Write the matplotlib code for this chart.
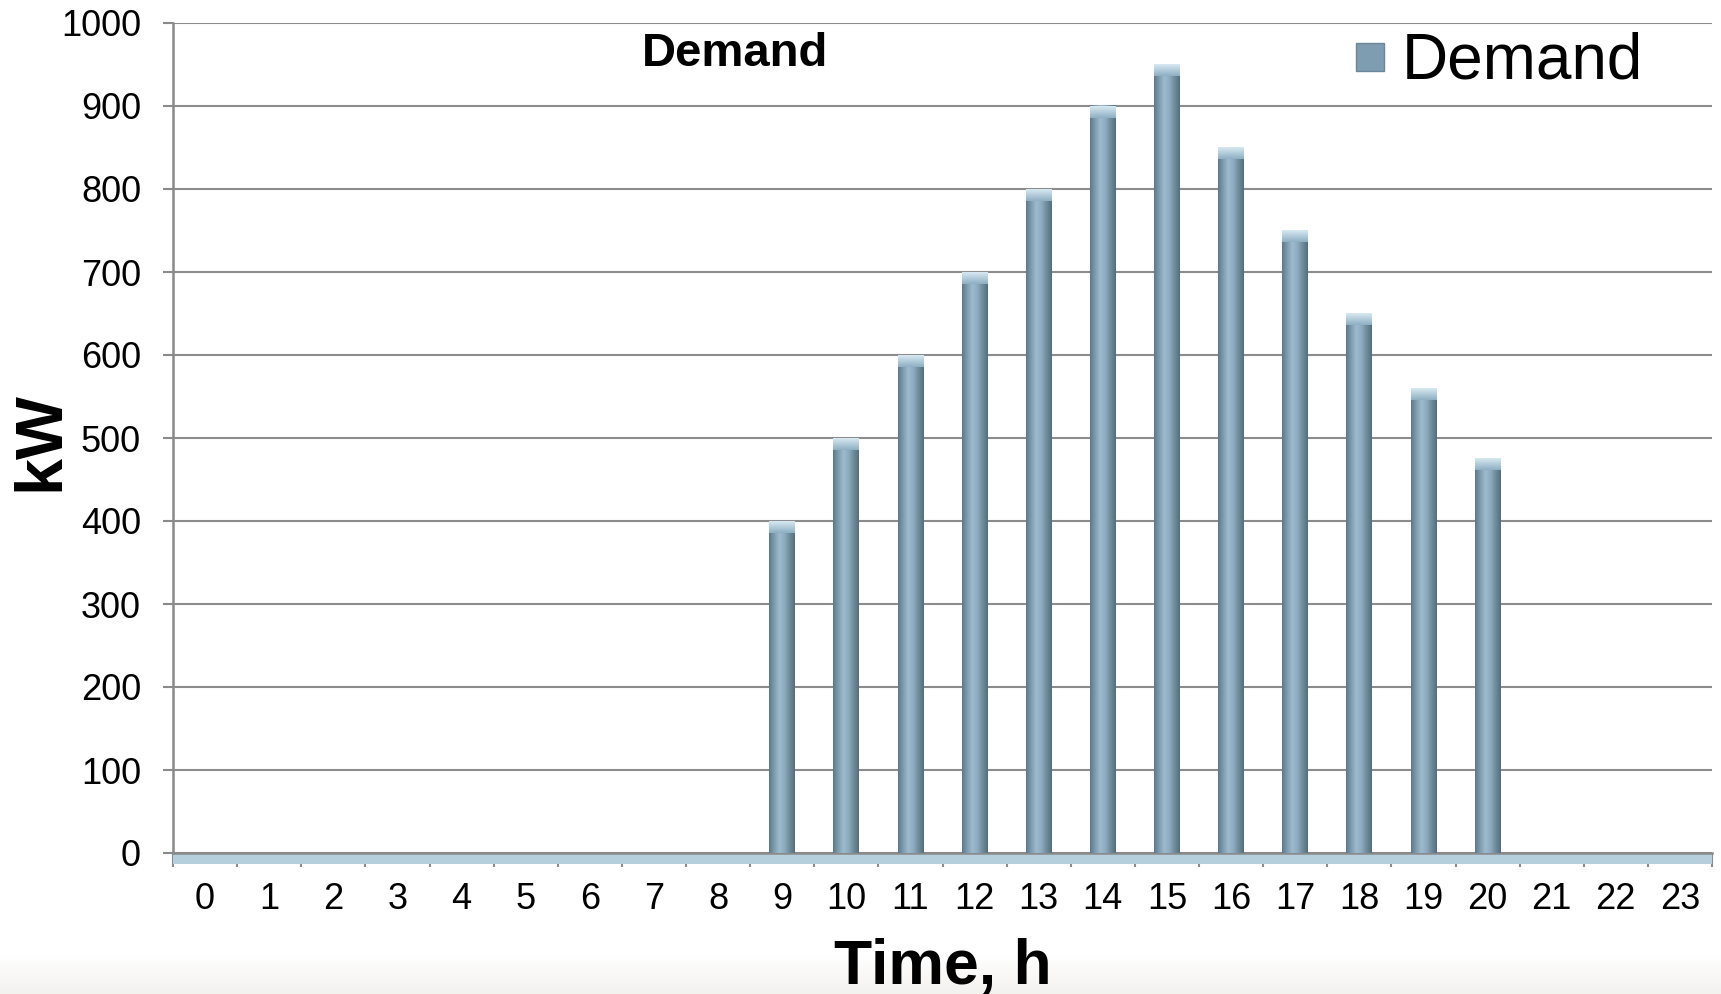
import numpy as np
import matplotlib.pyplot as plt
from matplotlib.colors import LinearSegmentedColormap
from matplotlib.patches import Rectangle
from matplotlib.lines import Line2D

plt.rcParams['font.family'] = ['Liberation Sans', 'DejaVu Sans']

hours = list(range(24))
demand = [0, 0, 0, 0, 0, 0, 0, 0, 0,
          400, 500, 600, 700, 800, 900, 950, 850, 750, 650, 560, 475,
          0, 0, 0]
y_ticks = list(range(0, 1001, 100))

W, H = 1721, 994
fig = plt.figure(figsize=(W / 100, H / 100), dpi=100)

# faint warm band at the very bottom of the picture
bg = fig.add_axes([0, 0, 1, 40 / H], zorder=-5)
bg.imshow(np.linspace(0, 1, 50).reshape(-1, 1), aspect='auto',
          cmap=LinearSegmentedColormap.from_list('bgfade', ['#f4f2ef', '#ffffff']),
          extent=[0, 1, 0, 1], origin='lower')
bg.axis('off')

ax = fig.add_axes([173 / W, 1 - 853 / H, (1712 - 173) / W, (853 - 23) / H])

bar_w = 0.4
cyl = LinearSegmentedColormap.from_list(
    'cyl', ['#5d7889', '#7f9db0', '#9dbbcd', '#8eacbf', '#6f8b9c', '#566f7f'])
grad = np.linspace(0, 1, 64).reshape(1, -1)

for h, v in zip(hours, demand):
    if v <= 0:
        continue
    ax.bar(h, v, width=bar_w, color='#7f9db0', zorder=3)
    ax.imshow(grad, cmap=cyl, aspect='auto', zorder=4,
              extent=[h - bar_w / 2, h + bar_w / 2, 0, v])
    # light cap on top of each bar
    ax.imshow(np.linspace(0, 1, 20).reshape(-1, 1), aspect='auto', zorder=5,
              cmap=LinearSegmentedColormap.from_list('cap', ['#8fb0c3', '#d6e8f1']),
              extent=[h - bar_w / 2, h + bar_w / 2, v - 14, v], origin='lower')

ax.set_xlim(-0.5, 23.5)
ax.set_ylim(0, 1000)

ax.set_yticks(y_ticks)
ax.set_yticklabels([str(t) for t in y_ticks], fontsize=26)
ax.set_xticks(hours)
ax.set_xticklabels([str(h) for h in hours], fontsize=26)
ax.set_xticks(np.arange(-0.5, 24, 1), minor=True)

ax.tick_params(axis='y', length=7, width=1.5, color='#8a8a8a', pad=16, direction='out')
ax.tick_params(axis='x', which='major', length=0, pad=21)
ax.tick_params(axis='x', which='minor', length=10, width=1.5, color='#8a8a8a', direction='out')

ax.grid(axis='y', color='#8c8c8c', linewidth=1.5, zorder=0)
ax.set_axisbelow(True)

for s in ['top', 'right']:
    ax.spines[s].set_visible(False)
ax.spines['left'].set_color('#8a8a8a')
ax.spines['left'].set_linewidth(1.8)
ax.spines['bottom'].set_color('#8a8a8a')
ax.spines['bottom'].set_linewidth(1.8)

# light blue floor under the category axis
ax.add_patch(Rectangle((0, -11 / 830), 1, 11 / 830, transform=ax.transAxes,
                       facecolor='#b6cfdc', edgecolor='none', clip_on=False, zorder=1))

fig.text(41 / W, 1 - 441 / H, 'kW', fontsize=48, fontweight='bold',
         rotation=90, ha='center', va='center')
ax.set_xlabel('Time, h', fontsize=45, fontweight='bold', labelpad=15)

ax.text(0.365, 0.963, 'Demand', transform=ax.transAxes, fontsize=34,
        fontweight='bold', ha='center', va='center')

handle = Line2D([], [], marker='s', linestyle='none', markersize=20,
                markerfacecolor='#7f9db0', markeredgecolor='#6b8799')
ax.legend([handle], ['Demand'], loc='upper right', bbox_to_anchor=(0.972, 1.02),
          fontsize=46, frameon=False, handletextpad=0.1, handlelength=0.8,
          borderaxespad=0)

fig.savefig('out.png', dpi=100)
